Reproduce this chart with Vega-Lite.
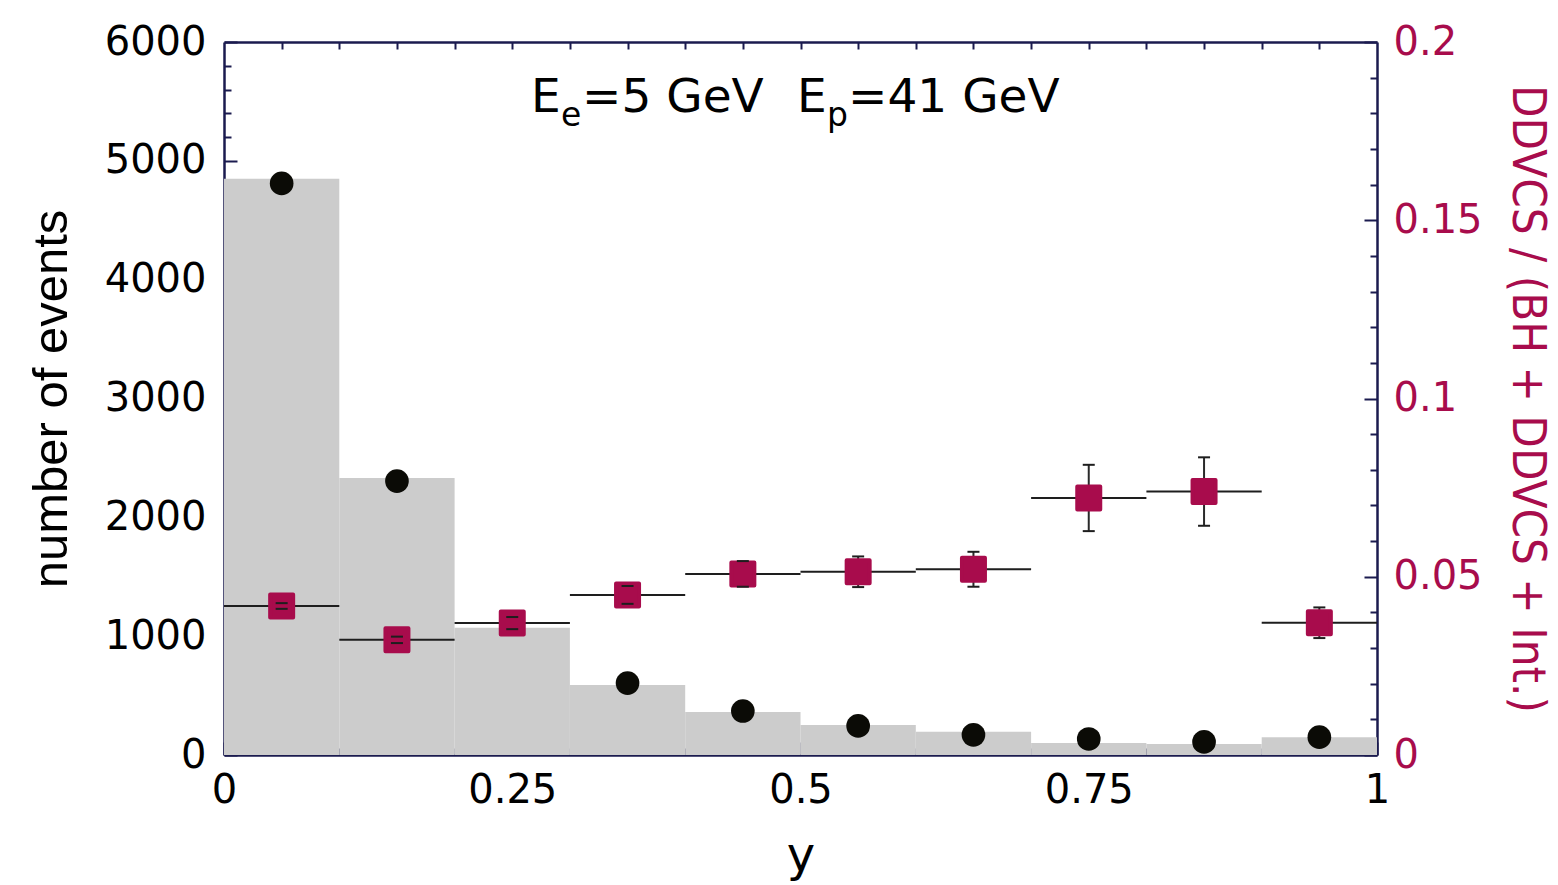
{
  "$schema": "https://vega.github.io/schema/vega-lite/v6.json",
  "autosize": {"type": "none"},
  "width": 1153,
  "height": 713,
  "padding": {"left": 224, "top": 42, "right": 181, "bottom": 130},
  "background": "white",
  "config": {
    "view": {"stroke": null},
    "axis": {
      "grid": false,
      "domainColor": "#1b1b4f",
      "domainWidth": 2.5,
      "tickColor": "#1b1b4f",
      "tickWidth": 2,
      "labelFont": "DejaVu Sans",
      "labelFontSize": 40,
      "labelColor": "#000000",
      "labelFlush": false,
      "labelOverlap": false,
      "labelBound": false,
      "zindex": 1
    }
  },
  "datasets": {
    "bins": [
      {"y_lo": 0.0, "y_hi": 0.1, "y_mid": 0.05, "hist": 4850, "events": 4810, "ratio": 0.0418, "ratio_lo": 0.0410, "ratio_hi": 0.0426},
      {"y_lo": 0.1, "y_hi": 0.2, "y_mid": 0.15, "hist": 2330, "events": 2305, "ratio": 0.0323, "ratio_lo": 0.0314, "ratio_hi": 0.0332},
      {"y_lo": 0.2, "y_hi": 0.3, "y_mid": 0.25, "hist": 1070, "events": 1110, "ratio": 0.0370, "ratio_lo": 0.0353, "ratio_hi": 0.0387},
      {"y_lo": 0.3, "y_hi": 0.4, "y_mid": 0.35, "hist": 590, "events": 605, "ratio": 0.0449, "ratio_lo": 0.0424, "ratio_hi": 0.0474},
      {"y_lo": 0.4, "y_hi": 0.5, "y_mid": 0.45, "hist": 362, "events": 370, "ratio": 0.0508, "ratio_lo": 0.0472, "ratio_hi": 0.0544},
      {"y_lo": 0.5, "y_hi": 0.6, "y_mid": 0.55, "hist": 252, "events": 245, "ratio": 0.0514, "ratio_lo": 0.0471, "ratio_hi": 0.0557},
      {"y_lo": 0.6, "y_hi": 0.7, "y_mid": 0.65, "hist": 195, "events": 170, "ratio": 0.0521, "ratio_lo": 0.0472, "ratio_hi": 0.0570},
      {"y_lo": 0.7, "y_hi": 0.8, "y_mid": 0.75, "hist": 100, "events": 135, "ratio": 0.0721, "ratio_lo": 0.0628, "ratio_hi": 0.0814},
      {"y_lo": 0.8, "y_hi": 0.9, "y_mid": 0.85, "hist": 93, "events": 110, "ratio": 0.0739, "ratio_lo": 0.0643, "ratio_hi": 0.0835},
      {"y_lo": 0.9, "y_hi": 1.0, "y_mid": 0.95, "hist": 150, "events": 150, "ratio": 0.0371, "ratio_lo": 0.0328, "ratio_hi": 0.0414}
    ],
    "caption": [
      {"x": 0.2663, "y": 5411, "text": "E"},
      {"x": 0.3105, "y": 5411, "text": "=5 GeV"},
      {"x": 0.4969, "y": 5411, "text": "E"},
      {"x": 0.5412, "y": 5411, "text": "=41 GeV"}
    ],
    "caption_sub": [
      {"x": 0.2923, "y": 5293, "text": "e"},
      {"x": 0.5229, "y": 5293, "text": "p"}
    ]
  },
  "resolve": {"scale": {"x": "independent", "y": "independent"}},
  "layer": [
    {
      "data": {"name": "bins"},
      "mark": {"type": "rect", "color": "#cccccc"},
      "encoding": {
        "x": {"field": "y_lo", "type": "quantitative",
          "scale": {"domain": [0, 1], "nice": false, "zero": false},
          "axis": {"orient": "bottom", "values": [0, 0.25, 0.5, 0.75, 1], "labelExpr": "'' + datum.value",
            "tickSize": -13, "labelPadding": 28,
            "title": "y", "titleFont": "DejaVu Sans", "titleFontSize": 48, "titleFontWeight": "normal", "titleColor": "#000000", "titlePadding": 22}},
        "x2": {"field": "y_hi"},
        "y": {"field": "hist", "type": "quantitative",
          "scale": {"domain": [0, 6000], "nice": false},
          "axis": {"orient": "left", "values": [0, 1000, 2000, 3000, 4000, 5000, 6000], "labelExpr": "'' + datum.value",
            "tickSize": -13, "labelPadding": 31,
            "title": "number of events", "titleFont": "Liberation Sans", "titleFontSize": 49, "titleFontWeight": "normal", "titleColor": "#000000", "titlePadding": 28}},
        "y2": {"datum": 0}
      }
    },
    {
      "data": {"name": "bins"},
      "mark": {"type": "rule", "color": "#1e1e1e", "strokeWidth": 2},
      "encoding": {
        "x": {"field": "y_lo", "type": "quantitative", "scale": {"domain": [0, 1], "nice": false, "zero": false}, "axis": null},
        "x2": {"field": "y_hi"},
        "y": {"field": "ratio", "type": "quantitative", "scale": {"domain": [0, 0.2], "nice": false}, "axis": null}
      }
    },
    {
      "data": {"name": "bins"},
      "mark": {"type": "point", "shape": "circle", "filled": true, "size": 560, "color": "#0b0b06", "opacity": 1},
      "encoding": {
        "x": {"field": "y_mid", "type": "quantitative",
          "scale": {"domain": [0, 1], "nice": false, "zero": false},
          "axis": {"orient": "bottom", "values": [0.05, 0.1, 0.15, 0.2, 0.3, 0.35, 0.4, 0.45, 0.55, 0.6, 0.65, 0.7, 0.8, 0.85, 0.9, 0.95],
            "tickSize": -7, "labels": false, "domain": false, "title": null}},
        "y": {"field": "events", "type": "quantitative",
          "scale": {"domain": [0, 6000], "nice": false},
          "axis": {"orient": "left", "values": [200, 400, 600, 800, 1200, 1400, 1600, 1800, 2200, 2400, 2600, 2800, 3200, 3400, 3600, 3800, 4200, 4400, 4600, 4800, 5200, 5400, 5600, 5800],
            "tickSize": -7, "labels": false, "domain": false, "title": null}}
      }
    },
    {
      "data": {"name": "bins"},
      "mark": {"type": "rule", "color": "#2a2a2a", "strokeWidth": 2},
      "encoding": {
        "x": {"field": "y_mid", "type": "quantitative", "scale": {"domain": [0, 1], "nice": false, "zero": false}, "axis": null},
        "y": {"field": "ratio_lo", "type": "quantitative", "scale": {"domain": [0, 0.2], "nice": false}, "axis": null},
        "y2": {"field": "ratio_hi"}
      }
    },
    {
      "data": {"name": "bins"},
      "mark": {"type": "point", "shape": "square", "filled": true, "size": 529, "color": "#a80c4c", "stroke": "#a80c4c", "strokeWidth": 4, "strokeJoin": "round", "opacity": 1},
      "encoding": {
        "x": {"field": "y_mid", "type": "quantitative",
          "scale": {"domain": [0, 1], "nice": false, "zero": false},
          "axis": {"orient": "top", "values": [0.05, 0.1, 0.15, 0.2, 0.25, 0.3, 0.35, 0.4, 0.45, 0.5, 0.55, 0.6, 0.65, 0.7, 0.75, 0.8, 0.85, 0.9, 0.95],
            "tickSize": -7, "labels": false, "title": null}},
        "y": {"field": "ratio", "type": "quantitative",
          "scale": {"domain": [0, 0.2], "nice": false},
          "axis": {"orient": "right", "values": [0, 0.05, 0.1, 0.15, 0.2], "labelExpr": "'' + datum.value",
            "tickSize": -13, "labelPadding": 29, "labelColor": "#a80c4c",
            "title": "DDVCS / (BH + DDVCS + Int.)", "titleFont": "DejaVu Sans Condensed", "titleFontSize": 47, "titleFontWeight": "normal", "titleColor": "#a80c4c", "titlePadding": 20}}
      }
    },
    {
      "data": {"name": "bins"},
      "mark": {"type": "tick", "orient": "horizontal", "size": 12, "thickness": 2, "color": "#1e1e1e", "opacity": 1},
      "encoding": {
        "x": {"field": "y_mid", "type": "quantitative", "scale": {"domain": [0, 1], "nice": false, "zero": false}, "axis": null},
        "y": {"field": "ratio_hi", "type": "quantitative",
          "scale": {"domain": [0, 0.2], "nice": false},
          "axis": {"orient": "right", "values": [0.01, 0.02, 0.03, 0.04, 0.06, 0.07, 0.08, 0.09, 0.11, 0.12, 0.13, 0.14, 0.16, 0.17, 0.18, 0.19],
            "tickSize": -7, "labels": false, "domain": false, "title": null}}
      }
    },
    {
      "data": {"name": "bins"},
      "mark": {"type": "tick", "orient": "horizontal", "size": 12, "thickness": 2, "color": "#1e1e1e", "opacity": 1},
      "encoding": {
        "x": {"field": "y_mid", "type": "quantitative", "scale": {"domain": [0, 1], "nice": false, "zero": false}, "axis": null},
        "y": {"field": "ratio_lo", "type": "quantitative", "scale": {"domain": [0, 0.2], "nice": false}, "axis": null}
      }
    },
    {
      "data": {"name": "caption"},
      "mark": {"type": "text", "font": "DejaVu Sans", "fontSize": 47, "align": "left", "baseline": "alphabetic", "color": "#000000"},
      "encoding": {
        "x": {"field": "x", "type": "quantitative", "scale": {"domain": [0, 1], "nice": false, "zero": false}, "axis": null},
        "y": {"field": "y", "type": "quantitative", "scale": {"domain": [0, 6000], "nice": false}, "axis": null},
        "text": {"field": "text"}
      }
    },
    {
      "data": {"name": "caption_sub"},
      "mark": {"type": "text", "font": "DejaVu Sans", "fontSize": 33, "align": "left", "baseline": "alphabetic", "color": "#000000"},
      "encoding": {
        "x": {"field": "x", "type": "quantitative", "scale": {"domain": [0, 1], "nice": false, "zero": false}, "axis": null},
        "y": {"field": "y", "type": "quantitative", "scale": {"domain": [0, 6000], "nice": false}, "axis": null},
        "text": {"field": "text"}
      }
    }
  ]
}
